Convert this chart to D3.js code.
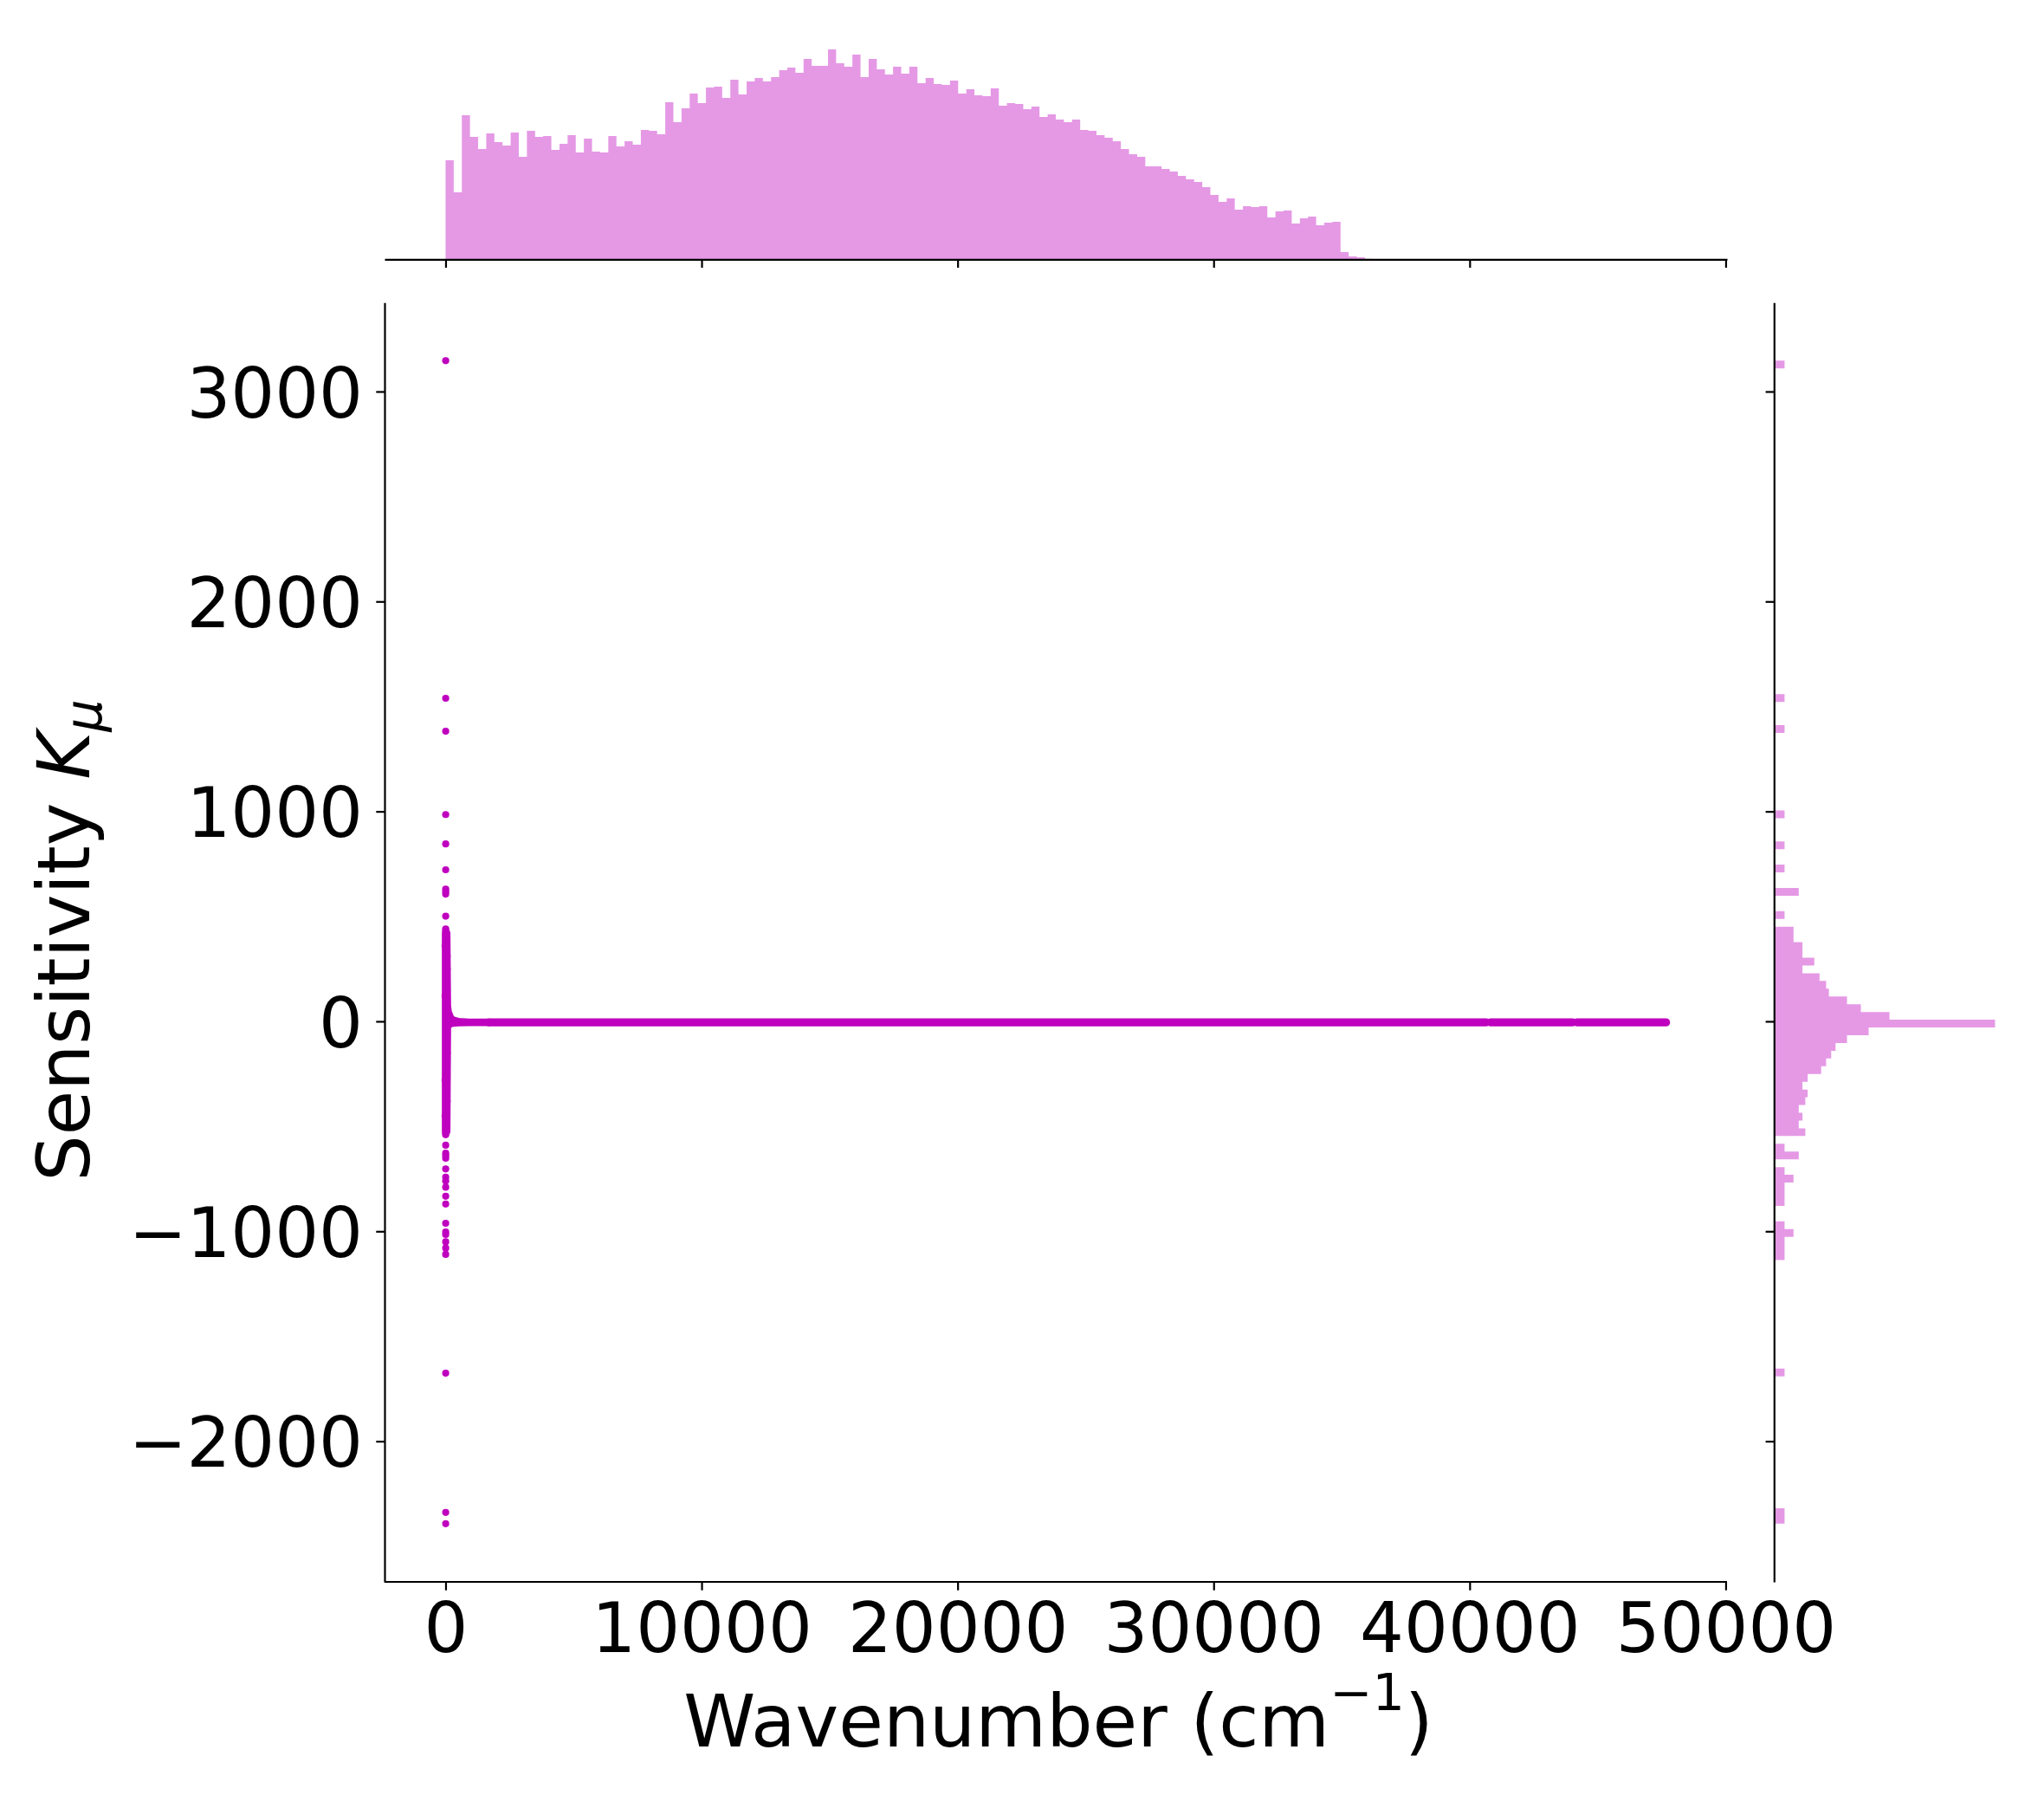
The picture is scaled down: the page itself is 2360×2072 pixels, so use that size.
<!DOCTYPE html>
<html><head><meta charset="utf-8">
<script src="https://cdn.jsdelivr.net/npm/d3@7"></script>
<style>
html,body{margin:0;padding:0;background:#fff;overflow:hidden}
svg{display:block}
text{font-family:"DejaVu Sans",sans-serif;fill:#000}
</style>
</head><body>
<svg id="chart" width="2360" height="2072"></svg>
<script>
// ---------------- data ----------------
const xTicks = [0, 10000, 20000, 30000, 40000, 50000];
const yTicks = [-2000, -1000, 0, 1000, 2000, 3000];
const xLabelText = "Wavenumber (cm";
const xLabelSup = "\u22121";
const yLabelText = "Sensitivity ";

// wavenumber range covered by the data / marginal histogram bins
const xDataMin = 0, xDataMax = 47670;
// sensitivity range covered by the data / marginal histogram bins
const yDataMin = -2393, yDataMax = 3147;

// top marginal histogram: counts per wavenumber bin (150 bins, relative units)
const xHistCounts = [
  343,232,499,424,382,436,406,394,439,355,
  445,424,427,379,400,430,370,418,373,370,
  427,391,409,397,448,445,433,544,475,523,
  574,541,595,598,559,622,571,616,628,616,
  631,655,664,646,694,670,670,727,679,667,
  709,631,694,658,640,667,643,667,610,628,
  607,604,619,574,589,568,565,592,532,541,
  538,520,529,493,502,484,475,484,448,445,
  430,421,409,382,364,355,322,322,313,304,
  289,277,268,250,223,199,211,172,184,181,
  184,145,166,169,124,142,148,118,127,130,
  25,10,7,2,1,1,1,1,1,1,
  1,1,1,1,1,1,1,1,1,1,
  1,1,1,1,1,1,1,1,1,1,
  1,1,1,1,1,1,1,1,1,1
];

// right marginal histogram: counts per sensitivity bin (150 bins, log axis)
const yHistCounts = [
  1,1,0,0,0,0,0,0,0,0,
  0,0,0,0,0,0,0,0,0,1,
  0,0,0,0,0,0,0,0,0,0,
  0,0,0,0,1,1,1,2,1,0,
  0,1,1,1,2,1,0,3,1,0,
  5,3,4,3,5,6,4,6,17,25,
  37,52,126,673,12000000,3380,368,126,31,25,
  15,4,10,4,4,2,2,0,1,0,
  0,3,0,0,1,0,0,1,0,0,
  0,1,0,0,0,0,0,0,0,0,
  0,0,1,0,0,0,1,0,0,0,
  0,0,0,0,0,0,0,0,0,0,
  0,0,0,0,0,0,0,0,0,0,
  0,0,0,0,0,0,0,0,0,0,
  0,0,0,0,0,0,0,0,0,1
];

// dense core of the scatter near zero wavenumber: [wavenumber, K low, K high]
const coreEnvelope = [
  [0, -525, 422], [45, -525, 422], [70, -30, 75], [100, -20, 45],
  [200, -11, 15], [300, -8, 5], [500, -6, -1], [900, -5, -4], [1700, -5, -5]
];
// the dense horizontal band of points: [wavenumber start, wavenumber end]
const bandRuns = [[1700, 40640], [40820, 44020], [44200, 47670]];
const bandLevel = -5;

// isolated scatter points: [wavenumber, K]
const outlierWavenumber = [5,5,5,5,5,5,5,5,5,5,5,5, 5,5,5,5,5,5,5,5,5,5,5,5,5,5,5,5,5,5,5,5,5,
  -20,60,-20,60,-20,60,-20,60];
const outlierK = [3147,1539,1382,985,845,722,630,618,606,501,440,432,
  -590,-628,-640,-652,-703,-742,-760,-790,-833,-870,-962,-1003,-1015,-1050,-1080,-1110,-1676,-2339,-2393,-540,-535,
  360,250,120,-150,-280,-380,-450,310];

// ---------------- layout ----------------
const mainBox = {left: 444, right: 1994, top: 349.2, bottom: 1826};
const topBox = {bottom: 299.4, top: 45};
const rightBox = {left: 2048.3, right: 2315.6};
const scatterColor = "#bf00bf";
const histColor = "#e599e5";
const tickFont = 80, labelFont = 84;
const tickLen = 9.7, lineW = 2.2;

const svg = d3.select("#chart");

const xRangePad = (xDataMax - xDataMin) * 0.05;
const yRangePad = (yDataMax - yDataMin) * 0.05;
const x = d3.scaleLinear().domain([xDataMin - xRangePad, 50053]).range([mainBox.left, mainBox.right]);
const y = d3.scaleLinear().domain([yDataMin - yRangePad, yDataMax + yRangePad]).range([mainBox.bottom, mainBox.top]);

// top histogram scale
const xhMax = d3.max(xHistCounts);
const hTop = d3.scaleLinear().domain([0, xhMax * 1.05]).range([topBox.bottom, topBox.top]);
// right histogram log scale
const D = Math.log10(d3.max(yHistCounts));
const hRight = d3.scaleLog().domain([Math.pow(10, -0.05 * D), Math.pow(10, 1.05 * D)]).range([rightBox.left, rightBox.right]);

// ---- top histogram (one path, no seams) ----
const xBinW = (xDataMax - xDataMin) / xHistCounts.length;
let pTop = d3.path();
xHistCounts.forEach((c, k) => {
  if (c <= 0) return;
  const x0 = x(xDataMin + k * xBinW), x1 = x(xDataMin + (k + 1) * xBinW);
  const yt = hTop(c);
  pTop.rect(x0, yt, x1 - x0, topBox.bottom - yt);
});
svg.append("path").attr("d", pTop.toString()).attr("fill", histColor);

// ---- right histogram ----
const yBinW = (yDataMax - yDataMin) / yHistCounts.length;
let pRight = d3.path();
yHistCounts.forEach((c, j) => {
  if (c <= 0) return;
  const yHi = y(yDataMin + (j + 1) * yBinW), yLo = y(yDataMin + j * yBinW);
  pRight.rect(rightBox.left, yHi, hRight(c) - rightBox.left, yLo - yHi);
});
svg.append("path").attr("d", pRight.toString()).attr("fill", histColor);

// ---- scatter ----
const gS = svg.append("g");
const area = d3.area().x(d => x(d[0])).y0(d => y(d[1])).y1(d => y(d[2]));
gS.append("path").attr("d", area(coreEnvelope))
  .attr("fill", scatterColor).attr("stroke", scatterColor)
  .attr("stroke-width", 8.6).attr("stroke-linejoin", "round");
const line = d3.line().x(d => x(d[0])).y(d => y(d[1]));
bandRuns.forEach(r => {
  gS.append("path").attr("d", line([[r[0], bandLevel], [r[1], bandLevel]]))
    .attr("fill", "none").attr("stroke", scatterColor)
    .attr("stroke-width", 9.4).attr("stroke-linecap", "round");
});
gS.selectAll("circle.pt").data(d3.range(outlierK.length)).join("circle")
  .attr("class", "pt")
  .attr("cx", i => x(outlierWavenumber[i]))
  .attr("cy", i => y(outlierK[i]))
  .attr("r", 4.1).attr("fill", scatterColor);

// ---- axes ----
const fmt = d => d < 0 ? "\u2212" + Math.abs(d) : String(d);
function styleAxis(g) {
  g.select(".domain").attr("stroke", "#000").attr("stroke-width", lineW);
  g.selectAll(".tick line").attr("stroke", "#000").attr("stroke-width", lineW);
  g.selectAll(".tick text").attr("font-size", tickFont).attr("font-family", "DejaVu Sans").attr("fill", "#000");
}
// main x
const gx = svg.append("g").attr("transform", `translate(0,${mainBox.bottom})`)
  .call(d3.axisBottom(x).tickValues(xTicks).tickFormat(fmt).tickSize(tickLen).tickSizeOuter(0).tickPadding(14));
styleAxis(gx);
gx.select(".domain").attr("d", `M${mainBox.left},0H${mainBox.right}`);
// main y
const gy = svg.append("g").attr("transform", `translate(${mainBox.left},0)`)
  .call(d3.axisLeft(y).tickValues(yTicks).tickFormat(fmt).tickSize(tickLen).tickSizeOuter(0).tickPadding(15.3));
styleAxis(gy);
gy.selectAll(".tick text").attr("dy", "0.365em");
// top marginal x axis
const gtx = svg.append("g").attr("transform", `translate(0,${topBox.bottom})`)
  .call(d3.axisBottom(x).tickValues(xTicks).tickFormat("").tickSize(tickLen).tickSizeOuter(0));
styleAxis(gtx);
// right marginal y axis
const gry = svg.append("g").attr("transform", `translate(${rightBox.left},0)`)
  .call(d3.axisLeft(y).tickValues(yTicks).tickFormat("").tickSize(tickLen).tickSizeOuter(0));
styleAxis(gry);

// ---- labels ----
const xl = svg.append("text").attr("x", (mainBox.left + mainBox.right) / 2 + 3).attr("y", 2016)
  .attr("text-anchor", "middle").attr("font-size", labelFont);
xl.append("tspan").text(xLabelText);
xl.append("tspan").attr("font-size", labelFont * 0.7).attr("dy", -42).text(xLabelSup);
xl.append("tspan").attr("font-size", labelFont).attr("dy", 42).text(")");

const yl = svg.append("text")
  .attr("transform", `translate(103,${(mainBox.top + mainBox.bottom) / 2 - 2}) rotate(-90)`)
  .attr("text-anchor", "middle").attr("font-size", labelFont);
yl.append("tspan").text(yLabelText);
yl.append("tspan").attr("font-style", "italic").text("K");
yl.append("tspan").attr("font-style", "italic").attr("font-size", labelFont * 0.7).attr("dy", 14).text("\u03bc");
</script>
</body></html>
